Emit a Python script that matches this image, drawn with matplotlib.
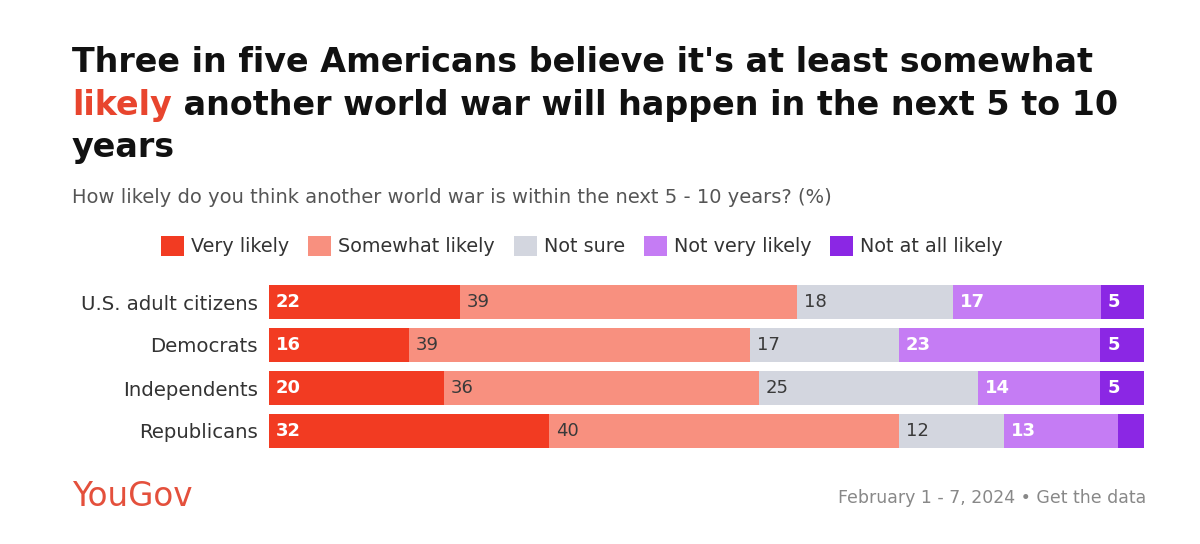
import matplotlib
matplotlib.use("Agg")
import matplotlib.pyplot as plt
import numpy as np
from matplotlib.patches import Patch

# ---- data ----
groups = ["U.S. adult citizens", "Democrats", "Independents", "Republicans"]
responses = ["Very likely", "Somewhat likely", "Not sure", "Not very likely", "Not at all likely"]
very_likely = [22, 16, 20, 32]
somewhat_likely = [39, 39, 36, 40]
not_sure = [18, 17, 25, 12]
not_very_likely = [17, 23, 14, 13]
not_at_all_likely = [5, 5, 5, 3]

colors = ["#F23B22", "#F8907F", "#D3D6DF", "#C57CF4", "#8B27E4"]
label_colors = ["white", "#3a3a3a", "#3a3a3a", "white", "white"]

W, H = 1200, 544
fig = plt.figure(figsize=(W / 100, H / 100), dpi=100)
fig.patch.set_facecolor("white")


def fx(px):
    return px / W


def fy(py):
    return 1 - py / H


TITLE_FONT = ["DejaVu Sans"]
BODY_FONT = ["DejaVu Sans"]

# ---- title ----
tsize = 24
fig.text(fx(72), fy(72), "Three in five Americans believe it's at least somewhat",
         fontsize=tsize, fontweight="bold", family=TITLE_FONT, color="#111111", va="baseline")
t_red = fig.text(fx(72), fy(115), "likely", fontsize=tsize, fontweight="bold",
                 family=TITLE_FONT, color="#E8452E", va="baseline")
renderer = fig.canvas.get_renderer()
x1 = t_red.get_window_extent(renderer).x1
fig.text(x1 / W, fy(115), " another world war will happen in the next 5 to 10",
         fontsize=tsize, fontweight="bold", family=TITLE_FONT, color="#111111", va="baseline")
fig.text(fx(72), fy(157), "years", fontsize=tsize, fontweight="bold",
         family=TITLE_FONT, color="#111111", va="baseline")

# ---- subtitle ----
fig.text(fx(72), fy(203), "How likely do you think another world war is within the next 5 - 10 years? (%)",
         fontsize=14, family=BODY_FONT, color="#555555", va="baseline")

# ---- bars ----
ax = fig.add_axes([fx(269), fy(452.5), (1144 - 269) / W, (452.5 - 280.5) / H])
data = np.array([very_likely, somewhat_likely, not_sure, not_very_likely, not_at_all_likely], dtype=float)
totals = data.sum(axis=0)
y = np.arange(len(groups))
left = np.zeros(len(groups))
for i, resp in enumerate(responses):
    widths = data[i] / totals * 100
    ax.barh(y, widths, left=left, height=0.8, color=colors[i], edgecolor="none", label=resp)
    for j in range(len(groups)):
        if data[i, j] >= 4:
            ax.annotate(f"{int(data[i, j])}", xy=(left[j], y[j]), xytext=(5, 0),
                        textcoords="offset points", va="center", ha="left",
                        fontsize=13, family=BODY_FONT,
                        fontweight="bold" if label_colors[i] == "white" else "normal",
                        color=label_colors[i])
    left += widths

ax.set_xlim(0, 100)
ax.set_ylim(len(groups) - 0.5, -0.5)
ax.set_yticks(y)
ax.set_yticklabels(groups, fontsize=14.2, family=BODY_FONT, color="#333333")
ax.tick_params(axis="y", length=0, pad=8)
ax.set_xticks([])
for s in ax.spines.values():
    s.set_visible(False)

# ---- legend ----
handles = [Patch(facecolor=c, edgecolor="none") for c in colors]
fig.legend(handles, responses, loc="center", bbox_to_anchor=(fx(582), fy(246)), ncol=5,
           frameon=False, prop={"family": BODY_FONT, "size": 13.8}, handlelength=1.2,
           handleheight=1.2, handletextpad=0.35, columnspacing=1.0, labelcolor="#333333")

# ---- footer ----
fig.text(fx(72), fy(496), "YouGov", fontsize=23.5, family=BODY_FONT,
         color="#E4503C", va="center", ha="left")
fig.text(fx(1146), fy(498), "February 1 - 7, 2024 \u2022 Get the data", fontsize=12.5,
         family=BODY_FONT, color="#888888", va="center", ha="right")

fig.savefig("out.png", dpi=100, facecolor="white")
